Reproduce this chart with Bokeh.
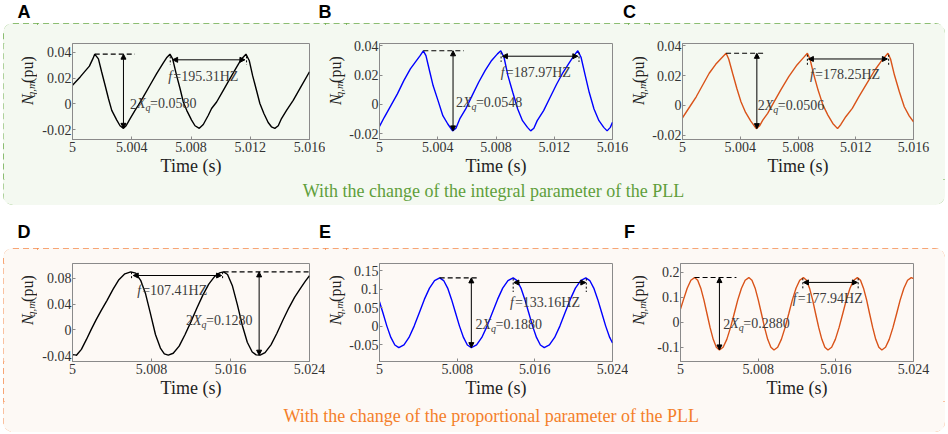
from math import pi
from bokeh.plotting import figure
from bokeh.layouts import row, column
from bokeh.models import Range1d, FixedTicker, Label, Arrow, NormalHead
from bokeh.core.properties import value
from bokeh.embed import file_html
from bokeh.resources import INLINE

SERIF = "Liberation Serif"
SANS = "Liberation Sans"

# ---------------- data (time offsets in ms after 5 s, values in pu) ----------------
A_t_ms = [0.00, 0.52, 0.85, 1.14, 1.37, 1.50, 1.75, 1.97, 2.20, 2.43, 2.65, 2.99, 3.21, 3.44,
          3.62, 3.89, 4.22, 4.45, 4.78, 5.23, 5.68, 6.13, 6.35, 6.58, 6.76, 7.03, 7.26, 7.48,
          7.71, 8.04, 8.27, 8.56, 8.83, 9.17, 9.39, 9.73, 10.18, 10.63, 11.08, 11.41, 11.71,
          11.93, 12.16, 12.42, 12.65, 12.92, 13.21, 13.43, 13.66, 13.89, 14.11, 14.45, 14.90,
          15.35, 16.00]
A_v = [0.0145, 0.0210, 0.0255, 0.0294, 0.0350, 0.0387, 0.0350, 0.0248, 0.0145, 0.0040, -0.0050,
       -0.0126, -0.0170, -0.0190, -0.0170, -0.0114, -0.0050, -0.0010, 0.0054, 0.0145, 0.0235,
       0.0320, 0.0359, 0.0387, 0.0350, 0.0220, 0.0120, 0.0015, -0.0050, -0.0126, -0.0170,
       -0.0190, -0.0160, -0.0088, -0.0036, 0.0015, 0.0106, 0.0196, 0.0286, 0.0350, 0.0387,
       0.0338, 0.0220, 0.0106, 0.0003, -0.0075, -0.0145, -0.0178, -0.0190, -0.0170, -0.0114,
       -0.0050, 0.0028, 0.0119, 0.0250]

B_t_ms = [0.00, 0.33, 0.78, 1.23, 1.67, 2.12, 2.46, 2.79, 3.01, 3.19, 3.46, 3.68, 4.02, 4.35,
          4.69, 5.02, 5.25, 5.51, 5.92, 6.36, 6.81, 7.25, 7.70, 8.10, 8.33, 8.55, 8.82, 9.15,
          9.49, 9.82, 10.16, 10.38, 10.60, 10.83, 11.27, 11.72, 12.17, 12.61, 13.06, 13.39,
          13.62, 13.84, 14.13, 14.40, 14.73, 15.07, 15.40, 15.63, 15.85, 16.00]
B_v = [-0.0151, -0.0089, -0.0009, 0.0071, 0.0162, 0.0242, 0.0288, 0.0333, 0.0366, 0.0333,
       0.0219, 0.0128, 0.0025, -0.0078, -0.0135, -0.0182, -0.0164, -0.0100, -0.0032, 0.0059,
       0.0151, 0.0230, 0.0300, 0.0345, 0.0366, 0.0322, 0.0196, 0.0082, -0.0032, -0.0112,
       -0.0158, -0.0182, -0.0164, -0.0112, -0.0043, 0.0048, 0.0139, 0.0219, 0.0288, 0.0338,
       0.0366, 0.0322, 0.0196, 0.0082, -0.0032, -0.0112, -0.0158, -0.0182, -0.0158, -0.0123]

C_t_ms = [0.00, 0.50, 0.95, 1.40, 1.85, 2.30, 2.64, 3.02, 3.20, 3.47, 3.76, 4.05, 4.37, 4.73,
          5.11, 5.34, 5.56, 5.90, 6.35, 6.80, 7.36, 7.93, 8.38, 8.65, 8.83, 9.10, 9.39, 9.73,
          10.07, 10.41, 10.74, 10.97, 11.31, 11.76, 12.21, 12.77, 13.33, 13.78, 14.23, 14.41,
          14.68, 15.02, 15.36, 15.70, 16.00]
C_v = [-0.0083, -0.0009, 0.0058, 0.0137, 0.0216, 0.0276, 0.0312, 0.0350, 0.0312, 0.0216,
       0.0115, 0.0025, -0.0047, -0.0106, -0.0156, -0.0137, -0.0099, -0.0054, 0.0025, 0.0103,
       0.0193, 0.0272, 0.0321, 0.0350, 0.0312, 0.0204, 0.0103, 0.0002, -0.0065, -0.0121,
       -0.0156, -0.0128, -0.0076, -0.0020, 0.0058, 0.0148, 0.0238, 0.0299, 0.0350, 0.0312,
       0.0204, 0.0092, -0.0009, -0.0070, -0.0110]

D_t_ms = [0.0, 0.4, 0.9, 1.4, 1.9, 2.4, 2.9, 3.5, 4.1, 4.7, 5.3, 5.9, 6.4, 6.9, 7.4, 7.9, 8.4,
          8.9, 9.3, 9.7, 10.2, 10.8, 11.4, 12.0, 12.6, 13.2, 13.8, 14.4, 14.9, 15.3, 15.7, 16.2,
          16.7, 17.2, 17.7, 18.2, 18.6, 19.0, 19.5, 20.1, 20.7, 21.3, 21.9, 22.5, 23.1, 23.6, 24.0]
D_v = [-0.0381, -0.0392, -0.0300, -0.0150, 0.0010, 0.0160, 0.0300, 0.0460, 0.0630, 0.0780,
       0.0870, 0.0900, 0.0880, 0.0770, 0.0560, 0.0250, -0.0070, -0.0280, -0.0370, -0.0390,
       -0.0360, -0.0250, -0.0070, 0.0130, 0.0340, 0.0540, 0.0710, 0.0830, 0.0885, 0.0900,
       0.0860, 0.0680, 0.0390, 0.0070, -0.0190, -0.0340, -0.0385, -0.0390, -0.0350, -0.0230,
       -0.0050, 0.0150, 0.0340, 0.0510, 0.0650, 0.0760, 0.0840]

E_t_ms = [0.00, 0.35, 0.76, 1.17, 1.58, 1.99, 2.52, 3.04, 3.57, 4.10, 4.62, 5.15, 5.67, 6.20,
          6.61, 7.02, 7.42, 7.83, 8.24, 8.65, 9.05, 9.46, 10.00, 10.54, 11.08, 11.62, 12.16,
          12.69, 13.23, 13.77, 14.17, 14.57, 14.97, 15.37, 15.77, 16.17, 16.57, 16.97, 17.50,
          18.04, 18.58, 19.11, 19.65, 20.18, 20.72, 21.25, 21.66, 22.07, 22.48, 22.89, 23.30,
          23.71, 24.00]
E_v = [0.0664, 0.0368, 0.0007, -0.0299, -0.0503, -0.0575, -0.0503, -0.0299, 0.0007, 0.0368,
       0.0729, 0.1035, 0.1239, 0.1311, 0.1239, 0.1035, 0.0729, 0.0368, 0.0007, -0.0299,
       -0.0503, -0.0575, -0.0503, -0.0299, 0.0007, 0.0368, 0.0729, 0.1035, 0.1239, 0.1311,
       0.1239, 0.1035, 0.0729, 0.0368, 0.0007, -0.0299, -0.0503, -0.0575, -0.0503, -0.0299,
       0.0007, 0.0368, 0.0729, 0.1035, 0.1239, 0.1311, 0.1239, 0.1035, 0.0729, 0.0368,
       0.0007, -0.0299, -0.0450]

F_t_ms = [0.00, 0.30, 0.69, 1.07, 1.45, 1.77, 2.09, 2.41, 2.73, 3.05, 3.37, 3.69, 4.01, 4.39,
          4.77, 5.15, 5.53, 5.90, 6.28, 6.66, 7.04, 7.36, 7.69, 8.01, 8.34, 8.66, 8.98, 9.31,
          9.63, 10.01, 10.39, 10.77, 11.15, 11.52, 11.90, 12.28, 12.66, 12.98, 13.29, 13.61,
          13.92, 14.24, 14.56, 14.87, 15.19, 15.57, 15.95, 16.33, 16.71, 17.08, 17.46, 17.84,
          18.22, 18.54, 18.85, 19.17, 19.48, 19.80, 20.11, 20.43, 20.74, 21.12, 21.50, 21.88,
          22.26, 22.63, 23.01, 23.39, 23.77, 24.00]
F_v = [0.0530, 0.0892, 0.1358, 0.1671, 0.1780, 0.1671, 0.1358, 0.0892, 0.0340, -0.0212,
       -0.0678, -0.0991, -0.1100, -0.0991, -0.0678, -0.0212, 0.0340, 0.0892, 0.1358, 0.1671,
       0.1780, 0.1671, 0.1358, 0.0892, 0.0340, -0.0212, -0.0678, -0.0991, -0.1100, -0.0991,
       -0.0678, -0.0212, 0.0340, 0.0892, 0.1358, 0.1671, 0.1780, 0.1671, 0.1358, 0.0892,
       0.0340, -0.0212, -0.0678, -0.0991, -0.1100, -0.0991, -0.0678, -0.0212, 0.0340, 0.0892,
       0.1358, 0.1671, 0.1780, 0.1671, 0.1358, 0.0892, 0.0340, -0.0212, -0.0678, -0.0991,
       -0.1100, -0.0991, -0.0678, -0.0212, 0.0340, 0.0892, 0.1358, 0.1671, 0.1780, 0.1740]

# tick values and labels
xticks_short = [5.0, 5.004, 5.008, 5.012, 5.016]
xlabels_short = ["5", "5.004", "5.008", "5.012", "5.016"]
xticks_long = [5.0, 5.008, 5.016, 5.024]
xlabels_long = ["5", "5.008", "5.016", "5.024"]
yticks_ABC = [-0.02, 0.0, 0.02, 0.04]
ylabels_ABC = ["-0.02", "0", "0.02", "0.04"]
yticks_D = [-0.04, 0.0, 0.04, 0.08]
ylabels_D = ["-0.04", "0", "0.04", "0.08"]
yticks_E = [-0.05, 0.0, 0.05, 0.1, 0.15]
ylabels_E = ["-0.05", "0", "0.05", "0.1", "0.15"]
yticks_F = [-0.1, 0.0, 0.1, 0.2]
ylabels_F = ["-0.1", "0", "0.1", "0.2"]

# axis limits
x_end = [5.016, 5.016, 5.016, 5.024, 5.024, 5.024]
y_lims = [(-0.0277, 0.047), (-0.0241, 0.0416), (-0.0229, 0.0416),
          (-0.0488, 0.103), (-0.095, 0.17), (-0.156, 0.234)]

# annotations: amplitude (2Xq) and frequency
amp_values = ["0.0580", "0.0548", "0.0506", "0.1280", "0.1880", "0.2880"]
freq_values = ["195.31", "187.97", "178.25", "107.41", "133.16", "177.94"]
amp_arrow_t = [3.44, 5.05, 5.15, 18.9, 9.46, 4.01]
amp_top = [0.0387, 0.0366, 0.0350, 0.0900, 0.1311, 0.1780]
amp_bot = [-0.0190, -0.0182, -0.0156, -0.0390, -0.0575, -0.1100]
amp_dash_t0 = [1.50, 3.01, 3.02, 15.3, 6.20, 1.45]
amp_dash_t1 = [4.22, 5.80, 5.68, 24.0, 10.13, 5.76]
amp_text_t = [3.89, 5.25, 5.22, 11.5, 9.90, 4.41]
amp_text_v = [0.0, 0.0014, 0.0, 0.015, 0.0063, -0.005]
freq_t0 = [6.76, 8.44, 8.72, 6.15, 13.84, 12.66]
freq_t1 = [11.64, 13.62, 14.19, 15.1, 21.25, 18.22]
freq_v = [0.0343, 0.0329, 0.0312, 0.0844, 0.1185, 0.1587]
freq_mark_t0 = [6.60, 8.35, 8.65, 5.98, 13.77, 12.60]
freq_mark_t1 = [11.75, 13.70, 14.28, 15.2, 21.30, 18.30]
freq_mark_top = [0.0370, 0.0355, 0.0340, 0.0896, 0.129, 0.175]
freq_mark_bot = [0.0305, 0.0290, 0.0260, 0.0793, 0.093, 0.128]
freq_text_t = [6.47, 8.33, 8.83, 6.55, 13.43, 11.55]
freq_text_v = [0.0214, 0.0219, 0.0209, 0.061, 0.064, 0.0947]

panel_letters_top = ["A", "B", "C"]
panel_letters_bottom = ["D", "E", "F"]
caption_top = "With the change of the integral parameter of the PLL"
caption_bottom = "With the change of the proportional  parameter of the PLL"
ylabel_parts = ["N", "q,m", "(pu)"]

# ---------------- styling / layout ----------------
AXC = "#8a8a8a"
TICKC = "#333333"
ANNC = "#3c3c3c"
LINE_COLORS = ["#000000", "#0000ff", "#d95319", "#000000", "#0000ff", "#d95319"]
GREEN_BG, GREEN_BORDER, GREEN_TEXT = "#f4f9f1", "#6aaa47", "#5f9f3b"
ORANGE_BG, ORANGE_BORDER, ORANGE_TEXT = "#fdf9f5", "#f5894a", "#f47f2a"

PAGE_W = 948
PANEL_W = 942
# per column: (label strip width, label anchor x, plot width, min_border_left, min_border_right)
COLS = [(34, 24, 288, 35, 16), (21, 10, 282, 31, 16), (21, 10, 296, 31, 32)]


def style_axis(ax, ticks, labels):
    ax.ticker = FixedTicker(ticks=ticks)
    ax.major_label_overrides = {t: l for t, l in zip(ticks, labels)}
    ax.axis_line_color = AXC
    ax.major_tick_line_color = AXC
    ax.minor_tick_line_color = None
    ax.major_tick_in = 3
    ax.major_tick_out = 0
    ax.major_label_text_font = SERIF
    ax.major_label_text_color = TICKC
    ax.major_label_text_font_size = "14px"


def add_label(p, x, y, text, size, style="normal", dx=0, dy=0, color=ANNC):
    p.add_layout(Label(x=x, y=y, text=text, x_offset=dx, y_offset=dy,
                       text_font=SERIF, text_font_size=size, text_font_style=style,
                       text_color=color, text_align="left", text_baseline="middle"))


def plain_fig(width, height, bg):
    p = figure(width=width, height=height, x_range=Range1d(0, width), y_range=Range1d(0, height),
               toolbar_location=None, output_backend="svg", min_border=0)
    p.axis.visible = False
    p.grid.visible = False
    p.outline_line_color = None
    p.background_fill_color = bg
    p.border_fill_color = bg
    return p


def ylabel_fig(i, height, top, bottom, bg):
    w, ax_x = COLS[i % 3][0], COLS[i % 3][1]
    p = plain_fig(w, height, bg)
    c = bottom + (height - top - bottom) / 2
    s = c - 32
    for txt, size, dxx, dyy, style in ((ylabel_parts[0], "16px", 0, 0, "italic"),
                                       (ylabel_parts[1], "11px", 3, 12.5, "italic"),
                                       (ylabel_parts[2], "16px", 0, 36, "normal")):
        p.text(x=[ax_x + dxx], y=[s + dyy], text=[txt], angle=pi / 2,
               text_font=value(SERIF), text_font_size=size, text_font_style=style,
               text_color="#222222", text_align="left", text_baseline="middle")
    return p


def subplot(i, t_ms, vals, xticks, xlabels, yticks, ylabels, height, top, bottom, bg):
    _, _, width, left, right = COLS[i % 3]
    t = [5 + v / 1000 for v in t_ms]
    p = figure(width=width, height=height, x_range=Range1d(5, x_end[i]),
               y_range=Range1d(*y_lims[i]), toolbar_location=None, output_backend="svg",
               min_border_left=left, min_border_right=right,
               min_border_top=top, min_border_bottom=bottom)
    p.background_fill_color = bg
    p.border_fill_color = bg
    p.outline_line_color = AXC
    p.grid.visible = False
    bx = p.below[0]
    ly = p.left[0]
    style_axis(bx, xticks, xlabels)
    style_axis(ly, yticks, ylabels)
    bx.major_label_standoff = 2
    ly.major_label_standoff = 1
    bx.axis_label = "Time (s)"
    bx.axis_label_text_font = SERIF
    bx.axis_label_text_font_size = "18px"
    bx.axis_label_text_font_style = "normal"
    bx.axis_label_text_color = "#222222"
    bx.axis_label_standoff = 1

    p.line(t, vals, line_color=LINE_COLORS[i], line_width=1.4)

    # amplitude annotation
    ta = 5 + amp_arrow_t[i] / 1000
    p.line([5 + amp_dash_t0[i] / 1000, 5 + amp_dash_t1[i] / 1000], [amp_top[i], amp_top[i]],
           line_color="black", line_width=1.1, line_dash="5 3")
    p.add_layout(Arrow(start=NormalHead(size=5, fill_color="black", line_color="black"),
                       end=NormalHead(size=5, fill_color="black", line_color="black"),
                       x_start=ta, y_start=amp_top[i], x_end=ta, y_end=amp_bot[i],
                       line_color="black", line_width=1))
    xa = 5 + amp_text_t[i] / 1000
    add_label(p, xa, amp_text_v[i], "2", "14px")
    add_label(p, xa, amp_text_v[i], "X", "14px", "italic", dx=7)
    add_label(p, xa, amp_text_v[i], "q", "10px", "italic", dx=15.5, dy=-4)
    add_label(p, xa, amp_text_v[i], "=" + amp_values[i], "14px", dx=20)

    # frequency annotation
    p.segment(x0=[5 + freq_mark_t0[i] / 1000, 5 + freq_mark_t1[i] / 1000],
              x1=[5 + freq_mark_t0[i] / 1000, 5 + freq_mark_t1[i] / 1000],
              y0=[freq_mark_top[i]] * 2, y1=[freq_mark_bot[i]] * 2,
              line_color="black", line_width=1, line_dash="2 2")
    p.add_layout(Arrow(start=NormalHead(size=5, fill_color="black", line_color="black"),
                       end=NormalHead(size=5, fill_color="black", line_color="black"),
                       x_start=5 + freq_t0[i] / 1000, y_start=freq_v[i],
                       x_end=5 + freq_t1[i] / 1000, y_end=freq_v[i],
                       line_color="black", line_width=1))
    xf = 5 + freq_text_t[i] / 1000
    add_label(p, xf, freq_text_v[i], "f", "14px", "italic")
    add_label(p, xf, freq_text_v[i], "=" + freq_values[i] + "HZ", "14px", dx=5)
    return p


def letter_strip(height, letters, ypos):
    p = plain_fig(PAGE_W, height, "white")
    p.text(x=[23.5, 324.5, 629], y=[ypos] * 3, text=letters, text_font=value(SANS),
           text_font_style="bold", text_font_size="18px", text_color="black",
           text_align="center", text_baseline="middle")
    return p


def caption_fig(text, color, bg, height, ypos):
    p = plain_fig(PANEL_W, height, bg)
    p.text(x=[490], y=[ypos], text=[text], text_font=value(SERIF), text_font_size="18px",
           text_color=color, text_align="center", text_baseline="middle")
    return p


series = [(A_t_ms, A_v), (B_t_ms, B_v), (C_t_ms, C_v), (D_t_ms, D_v), (E_t_ms, E_v), (F_t_ms, F_v)]
yt = [(yticks_ABC, ylabels_ABC)] * 3 + [(yticks_D, ylabels_D), (yticks_E, ylabels_E), (yticks_F, ylabels_F)]

TOP_ROW = (156, 20, 40)   # height, min_border_top, min_border_bottom
BOT_ROW = (153, 15, 40)

top_children = []
for i in range(3):
    top_children.append(ylabel_fig(i, *TOP_ROW, GREEN_BG))
    top_children.append(subplot(i, *series[i], xticks_short, xlabels_short, *yt[i], *TOP_ROW, GREEN_BG))
bot_children = []
for i in range(3, 6):
    bot_children.append(ylabel_fig(i, *BOT_ROW, ORANGE_BG))
    bot_children.append(subplot(i, *series[i], xticks_long, xlabels_long, *yt[i], *BOT_ROW, ORANGE_BG))


def panel_styles(border, bg):
    return {"outline": "2px dashed " + border, "outline-offset": "-2px",
            "border-radius": "10px", "background-color": bg, "overflow": "hidden"}


panel_top = column(row(*top_children), caption_fig(caption_top, GREEN_TEXT, GREEN_BG, 26, 15),
                   styles=panel_styles(GREEN_BORDER, GREEN_BG), margin=(0, 3, 0, 3))
panel_bot = column(row(*bot_children), caption_fig(caption_bottom, ORANGE_TEXT, ORANGE_BG, 31, 17),
                   styles=panel_styles(ORANGE_BORDER, ORANGE_BG), margin=(0, 3, 0, 3))

layout = column(letter_strip(23, panel_letters_top, 11.5), panel_top,
                letter_strip(43, panel_letters_bottom, 16.5), panel_bot)

open("out.html", "w").write(file_html(layout, INLINE))
